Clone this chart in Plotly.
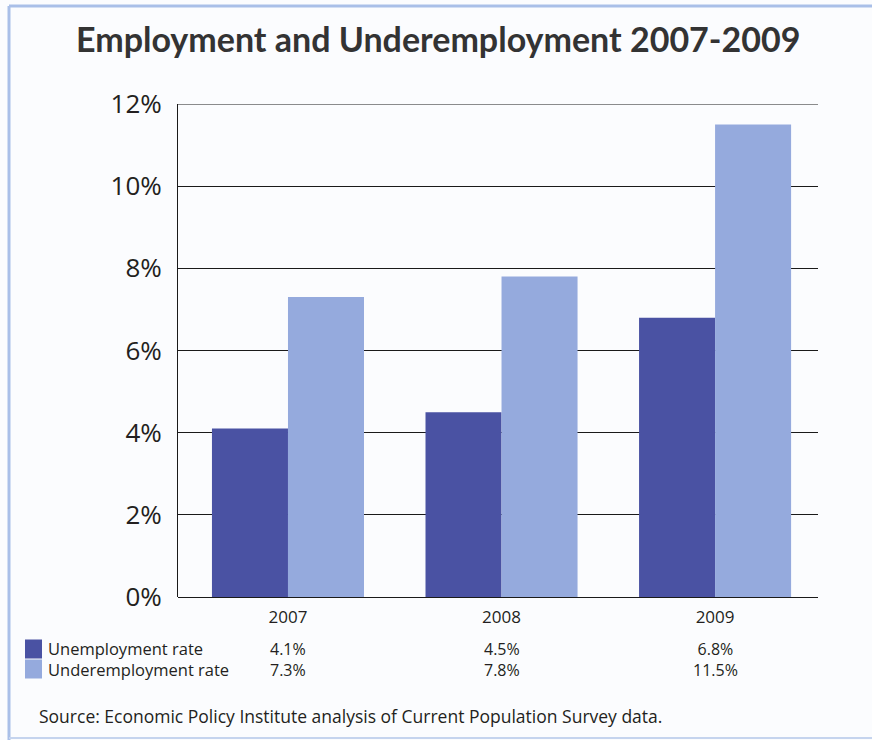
import plotly.graph_objects as go

# Data
years = ["2007", "2008", "2009"]
unemployment = [4.1, 4.5, 6.8]
underemployment = [7.3, 7.8, 11.5]
series_names = ["Unemployment rate", "Underemployment rate"]
y_ticks = [0, 2, 4, 6, 8, 10, 12]
y_tick_text = [f"{v}%" for v in y_ticks]

dark_blue = "#4a52a3"
light_blue = "#95aadd"
text_col = "#231f20"
rule_col = "#1a1a1a"

W, H = 872, 740
L, R, T, B = 178, 54, 104, 143
plot_w = W - L - R
plot_h = H - T - B


def px_x(px):
    return (px - L) / plot_w


def px_y(py):
    return (H - B - py) / plot_h


fig = go.Figure()
fig.add_trace(go.Bar(x=years, y=unemployment, name=series_names[0],
                     marker=dict(color=dark_blue, line=dict(width=0))))
fig.add_trace(go.Bar(x=years, y=underemployment, name=series_names[1],
                     marker=dict(color=light_blue, line=dict(width=0))))

annotations = []
shapes = []

# Title
annotations.append(dict(text="<b>Employment and Underemployment 2007-2009</b>",
                        x=px_x(438), y=px_y(39), xref="paper", yref="paper",
                        xanchor="center", yanchor="middle", showarrow=False,
                        font=dict(family="Lato", size=34, color="#333333")))

# Table-style legend under the axis: swatches, row labels, one value column per year
row_y = [649, 669]
row_vals = [unemployment, underemployment]
row_cols = [dark_blue, light_blue]
for col, ry in zip(row_cols, row_y):
    shapes.append(dict(type="rect", xref="paper", yref="paper",
                       x0=px_x(25), x1=px_x(42), y0=px_y(ry - 9.5), y1=px_y(ry + 9.5),
                       fillcolor=col, line=dict(width=0)))
table_mid = (row_y[0] + row_y[1]) / 2
annotations.append(dict(text="<br>".join(series_names), x=px_x(46), y=px_y(table_mid),
                        xref="paper", yref="paper", xanchor="left", yanchor="middle",
                        align="left", showarrow=False,
                        font=dict(family="Open Sans", size=16.5, color=text_col)))
for i in range(len(years)):
    cell = "<br>".join(f"{vals[i]:.1f}%" for vals in row_vals)
    annotations.append(dict(text=cell, x=i, y=px_y(table_mid), xref="x", yref="paper",
                            xanchor="center", yanchor="middle", align="center",
                            showarrow=False,
                            font=dict(family="Open Sans", size=16, color=text_col)))

# Source note
annotations.append(dict(text="Source: Economic Policy Institute analysis of Current Population Survey data.",
                        x=px_x(37), y=px_y(716), xref="paper", yref="paper",
                        xanchor="left", yanchor="middle", showarrow=False,
                        font=dict(family="Open Sans", size=17.5, color=text_col)))

# Top rule of the plot area (12% line)
shapes.append(dict(type="line", xref="paper", yref="y", x0=0, x1=1, y0=12, y1=12,
                   line=dict(color=rule_col, width=1), layer="below"))

# Frame: light blue rule along the top and left edges
shapes.append(dict(type="line", xref="paper", yref="paper",
                   x0=px_x(9), x1=px_x(872), y0=px_y(6), y1=px_y(6),
                   line=dict(color="#a9bfe8", width=3)))
shapes.append(dict(type="line", xref="paper", yref="paper",
                   x0=px_x(9), x1=px_x(9), y0=px_y(6), y1=px_y(740),
                   line=dict(color="#a9bfe8", width=3)))
shapes.append(dict(type="line", xref="paper", yref="paper",
                   x0=px_x(9), x1=px_x(872), y0=px_y(738), y1=px_y(738),
                   line=dict(color="#c5d4ee", width=2)))

fig.update_layout(
    width=W, height=H,
    margin=dict(l=L, r=R, t=T, b=B),
    paper_bgcolor="#fbfcfe",
    plot_bgcolor="rgba(0,0,0,0)",
    barmode="group",
    bargap=0.288,
    bargroupgap=0,
    showlegend=False,
    annotations=annotations,
    shapes=shapes,
    xaxis=dict(
        type="category",
        range=[-0.515, 2.482],
        showgrid=False, showline=False, zeroline=False,
        ticks="", ticklabelstandoff=8,
        tickfont=dict(family="Open Sans", size=17, color=text_col),
    ),
    yaxis=dict(
        range=[0, 12], tickvals=y_ticks, ticktext=y_tick_text,
        showgrid=True, gridcolor=rule_col, gridwidth=1,
        zeroline=True, zerolinecolor=rule_col, zerolinewidth=1,
        showline=True, linecolor=rule_col, linewidth=1,
        ticks="", ticklabelstandoff=10,
        tickfont=dict(family="Open Sans", size=26, color=text_col),
    ),
)

fig.write_html("out.html")
